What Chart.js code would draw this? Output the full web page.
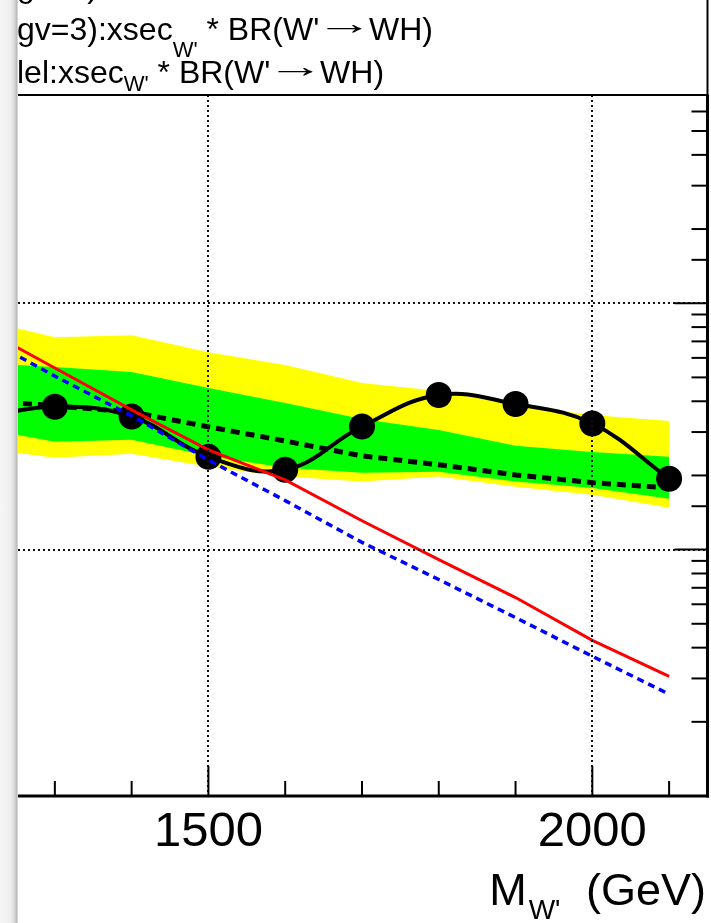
<!DOCTYPE html>
<html>
<head>
<meta charset="utf-8">
<script src="https://cdn.jsdelivr.net/npm/chart.js@4.4.1/dist/chart.umd.min.js"></script>
<style>
  html, body { margin: 0; padding: 0; background: #fff; }
  #wrap { position: relative; width: 711px; height: 923px; overflow: hidden; font-family: "Liberation Sans", Arial, sans-serif; color: #000; }
  #chart { position: absolute; left: 0; top: 0; }
  .leg { position: absolute; left: 17px; font-size: 32px; line-height: 32px; white-space: nowrap; }
  .sub { position: relative; font-size: 22px; }
  .arr { display: inline-block; position: relative; top: -6px; transform: scaleX(1.8); }
  #xtitle { position: absolute; right: 5px; top: 867px; font-size: 45px; line-height: 45px; white-space: nowrap; }
  #xtitle .sub { top: 14px; font-size: 28px; margin: 0 13px 0 2px; }
  #edge { position: absolute; left: 0; top: 0; width: 18px; height: 923px;
          background: linear-gradient(to right, #f6f6f6 0px, #eeeeee 11px, #d2d2d2 15px, #bcbcbc 16.5px, #e2e2e2 18px); }
</style>
</head>
<body>
<div id="wrap">
  <canvas id="chart" width="711" height="923"></canvas>
  <div class="leg" style="top:-30px">gv=1)</div>
  <div class="leg" style="top:13px">gv=3):xsec<span class="sub" style="top:17px">W'</span> * BR(W' <span class="arr">→</span> WH)</div>
  <div class="leg" style="top:56px">lel:xsec<span class="sub" style="top:8px">W'</span> * BR(W' <span class="arr">→</span> WH)</div>
  <div id="xtitle">M<span class="sub">W'</span> (GeV)</div>
  <div id="edge"></div>
</div>
<script>
// W' mass points (GeV)
const masses = [1200, 1300, 1400, 1500, 1600, 1700, 1800, 1900, 2000, 2100];
// 95% CL upper limits on xsec * BR (pb)
const observed   = [0.0342, 0.0380, 0.0347, 0.0238, 0.0211, 0.0316, 0.0424, 0.0390, 0.0325, 0.0194];
const expected   = [0.0405, 0.0383, 0.0362, 0.0315, 0.0276, 0.0240, 0.0221, 0.0201, 0.0187, 0.0178];
const exp1sUp    = [0.0572, 0.0551, 0.0526, 0.0453, 0.0394, 0.0339, 0.0306, 0.0264, 0.0249, 0.0238];
const exp1sDown  = [0.0312, 0.0274, 0.0279, 0.0240, 0.0215, 0.0205, 0.0207, 0.0189, 0.0178, 0.0161];
const exp2sUp    = [0.0862, 0.0728, 0.0742, 0.0633, 0.0561, 0.0475, 0.0440, 0.0386, 0.0352, 0.0333];
const exp2sDown  = [0.0259, 0.0236, 0.0245, 0.0217, 0.0198, 0.0189, 0.0198, 0.0180, 0.0167, 0.0148];
// theory predictions of xsec * BR(W' -> WH)
const theoryGv3  = [0.0807, 0.0546, 0.0369, 0.0254, 0.0192, 0.0131, 0.00911, 0.00639, 0.00428, 0.00306];
const theoryAlt  = [0.0749, 0.0506, 0.0349, 0.0231, 0.0158, 0.0107, 0.00756, 0.00530, 0.00369, 0.00259];

// axis settings
const massTicks = [1300, 1400, 1500, 1600, 1700, 1800, 1900, 2000, 2100];
const massLabels = [1500, 2000];
const xRange = [1252, 2150];
const yRange = [0.001, 0.7];

const pts = arr => arr.map((v, i) => ({ x: masses[i], y: v }));
const isDecade = v => Math.abs(Math.log10(v) - Math.round(Math.log10(v))) < 1e-6;

// inner tick marks and frame in the ROOT style
const framePlugin = {
  id: 'frame',
  afterDraw(chart) {
    const { ctx, chartArea: a, scales: { x, y } } = chart;
    ctx.save();
    ctx.strokeStyle = '#000';
    const seg = (x1, y1, x2, y2) => { ctx.beginPath(); ctx.moveTo(x1, y1); ctx.lineTo(x2, y2); ctx.stroke(); };
    ctx.lineWidth = 2;
    x.ticks.forEach(t => {
      const px = x.getPixelForValue(t.value);
      const len = massLabels.includes(t.value) ? 30 : 15;
      seg(px, a.bottom, px, a.bottom - len);
    });
    y.ticks.forEach(t => {
      const py = y.getPixelForValue(t.value);
      if (py <= a.top + 1 || py >= a.bottom - 1) return;
      const len = isDecade(t.value) ? 33 : 16;
      seg(a.right, py, a.right - len, py);
    });
    // frame: top, right, bottom
    ctx.lineWidth = 2;
    seg(0, a.top, a.right + 1, a.top);
    seg(a.right, 0, a.right, a.top);
    ctx.lineWidth = 3;
    seg(a.right, a.top, a.right, a.bottom + 1.5);
    seg(0, a.bottom, a.right + 1.5, a.bottom);
    ctx.restore();
  }
};

new Chart(document.getElementById('chart'), {
  type: 'line',
  data: {
    datasets: [
      { data: pts(exp2sUp), fill: 1, backgroundColor: '#ffff00', borderWidth: 0, pointRadius: 0, order: 8 },
      { data: pts(exp2sDown), fill: false, borderWidth: 0, pointRadius: 0, order: 7 },
      { data: pts(exp1sUp), fill: 3, backgroundColor: '#00ff00', borderWidth: 0, pointRadius: 0, order: 6 },
      { data: pts(exp1sDown), fill: false, borderWidth: 0, pointRadius: 0, order: 5 },
      { data: pts(expected), borderColor: '#000', borderWidth: 5, borderDash: [9, 6], pointRadius: 0, fill: false, order: 4 },
      { data: pts(observed), borderColor: '#000', borderWidth: 4, tension: 0.4, pointRadius: 13,
        pointBackgroundColor: '#000', pointBorderWidth: 0, fill: false, order: 3 },
      { data: pts(theoryGv3), borderColor: '#ff0000', borderWidth: 3, pointRadius: 0, fill: false, order: 2 },
      { data: pts(theoryAlt), borderColor: '#0000ff', borderWidth: 3.5, borderDash: [7, 5], pointRadius: 0, fill: false, order: 1 }
    ]
  },
  options: {
    responsive: false,
    animation: false,
    events: [],
    layout: { autoPadding: false, padding: { left: 18, top: 95, right: 0, bottom: 0 } },
    plugins: { legend: { display: false }, tooltip: { enabled: false } },
    scales: {
      x: {
        type: 'linear', min: xRange[0], max: xRange[1], position: 'bottom',
        afterBuildTicks: s => { s.ticks = massTicks.map(v => ({ value: v })); },
        afterFit: s => { s.height = 127; s.paddingLeft = 0; s.paddingRight = 0; },
        ticks: {
          font: { family: 'Liberation Sans', size: 49 }, color: '#000', padding: 7,
          maxRotation: 0, autoSkip: false,
          callback: v => massLabels.includes(v) ? String(v) : ''
        },
        grid: {
          drawTicks: false, lineWidth: 2, z: 1,
          color: c => (c.tick && massLabels.includes(c.tick.value)) ? '#111' : 'rgba(0,0,0,0)'
        },
        border: { display: false, dash: [2, 3] }
      },
      y: {
        type: 'logarithmic', min: yRange[0], max: yRange[1], position: 'right',
        afterFit: s => { s.width = 3.5; s.paddingTop = 0; s.paddingBottom = 0; },
        ticks: { display: false },
        grid: {
          drawTicks: false, lineWidth: 2, z: 1,
          color: c => (c.tick && isDecade(c.tick.value) && c.tick.value > yRange[0]) ? '#111' : 'rgba(0,0,0,0)'
        },
        border: { display: false, dash: [2, 3] }
      }
    }
  },
  plugins: [framePlugin]
});
</script>
</body>
</html>
